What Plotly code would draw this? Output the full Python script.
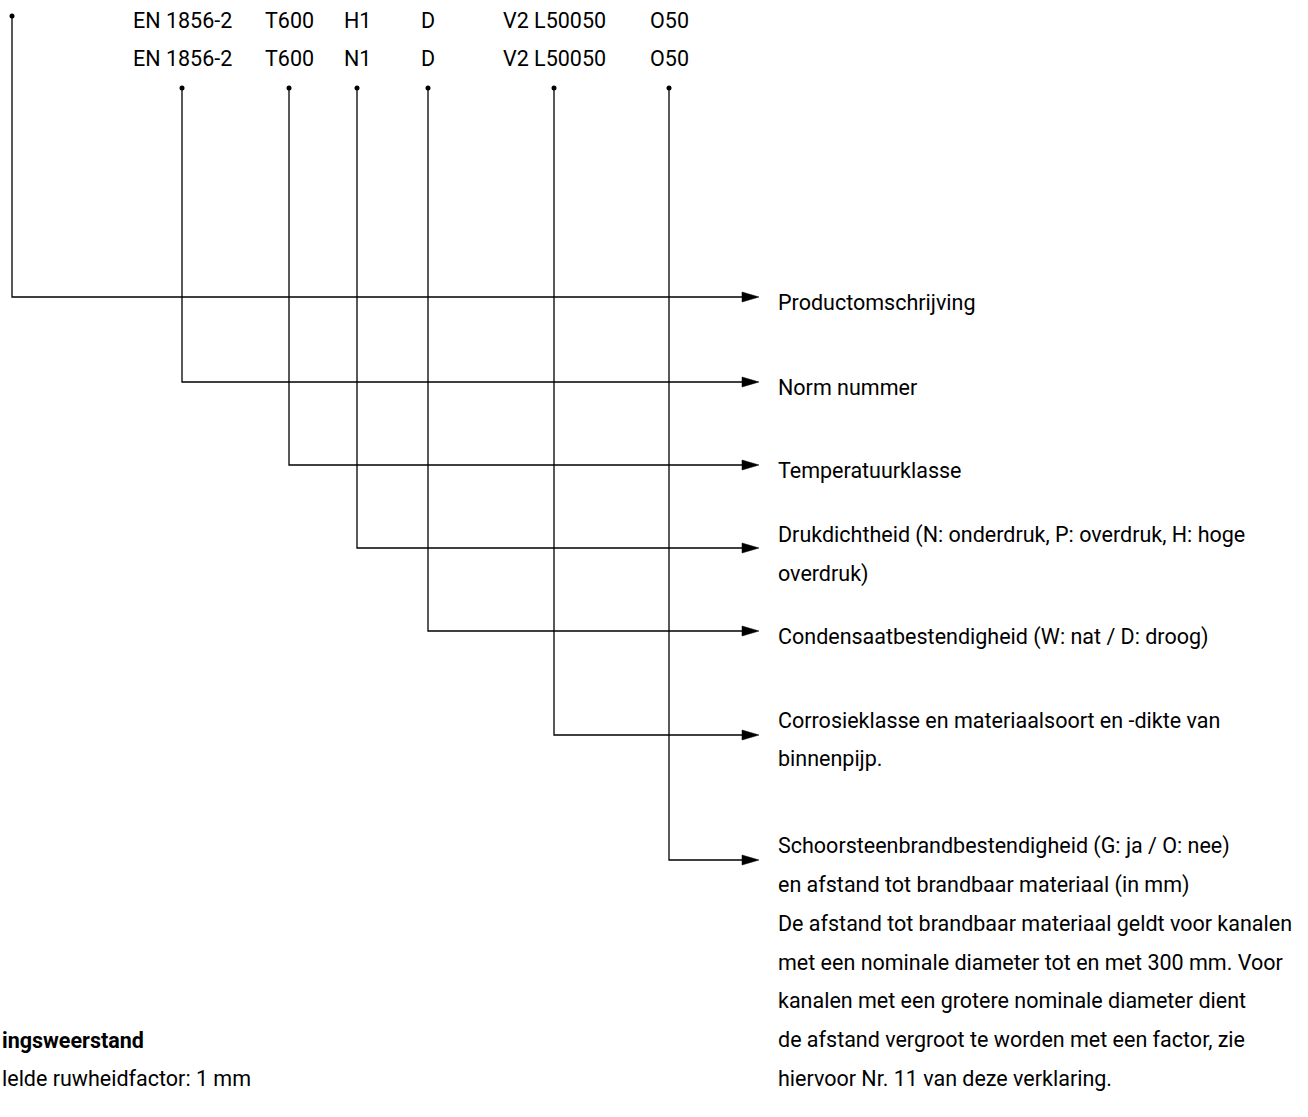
import plotly.graph_objects as go

# ---- content ----
code_row1 = ["EN 1856-2", "T600", "H1", "D", "V2 L50050", "O50"]
code_row2 = ["EN 1856-2", "T600", "N1", "D", "V2 L50050", "O50"]
labels = [
    ["Productomschrijving"],
    ["Norm nummer"],
    ["Temperatuurklasse"],
    ["Drukdichtheid (N: onderdruk, P: overdruk, H: hoge", "overdruk)"],
    ["Condensaatbestendigheid (W: nat / D: droog)"],
    ["Corrosieklasse en materiaalsoort en -dikte van", "binnenpijp."],
    ["Schoorsteenbrandbestendigheid (G: ja / O: nee)",
     "en afstand tot brandbaar materiaal (in mm)",
     "De afstand tot brandbaar materiaal geldt voor kanalen",
     "met een nominale diameter tot en met 300 mm. Voor",
     "kanalen met een grotere nominale diameter dient",
     "de afstand vergroot te worden met een factor, zie",
     "hiervoor Nr. 11 van deze verklaring."],
]
footer_bold = "ingsweerstand"
footer_text = "lelde ruwheidfactor: 1 mm"

# ---- layout geometry (pixels) ----
W, H = 1308, 1117
code_x = [182, 289, 357, 428, 554, 669]
row_y = [20, 58]
dot_y = 88
stem_x = [12] + code_x
stem_top = [16] + [dot_y] * 6
branch_y = [297, 382, 465, 548, 631, 735, 860]
label_first_y = [302, 387, 470, 535, 637, 720, 846]
line_gap = 38.7
tip_x = 759
text_x = 776
footer_y = [1040, 1078]

FONT = "Roboto"
FS = 21.5

fig = go.Figure()
shapes = []
ann = []

for sx, st, by in zip(stem_x, stem_top, branch_y):
    shapes.append(dict(type="path",
                       path=f"M {sx} {st} L {sx} {by} L {tip_x-14} {by}",
                       line=dict(color="black", width=1.3), xref="x", yref="y"))
    shapes.append(dict(type="path",
                       path=f"M {tip_x-17} {by-5} L {tip_x} {by} L {tip_x-17} {by+5} Z",
                       fillcolor="black", line=dict(color="black", width=0.5), xref="x", yref="y"))

fig.add_trace(go.Scatter(x=stem_x, y=stem_top, mode="markers",
                         marker=dict(color="black", size=5), hoverinfo="skip", showlegend=False))

for cx, t1, t2 in zip(code_x, code_row1, code_row2):
    for ty, t in zip(row_y, [t1, t2]):
        ann.append(dict(x=cx, y=ty, text=t, showarrow=False, xanchor="center", yanchor="middle",
                        font=dict(family=FONT, size=FS, color="black")))

for ly, lines in zip(label_first_y, labels):
    for i, t in enumerate(lines):
        ann.append(dict(x=text_x, y=ly + i * line_gap, text=t, showarrow=False,
                        xanchor="left", yanchor="middle",
                        font=dict(family=FONT, size=FS, color="black")))

for fy, ft in zip(footer_y, [f"<b>{footer_bold}</b>", footer_text]):
    ann.append(dict(xref="paper", yref="y", x=0, y=fy, text=ft, showarrow=False,
                    xanchor="left", yanchor="middle", font=dict(family=FONT, size=FS, color="black")))

fig.update_layout(
    width=W, height=H, margin=dict(l=0, r=0, t=0, b=0),
    paper_bgcolor="white", plot_bgcolor="white",
    shapes=shapes, annotations=ann,
    xaxis=dict(range=[0, W], visible=False, fixedrange=True),
    yaxis=dict(range=[H, 0], visible=False, fixedrange=True),
)
fig.write_html("out.html", config={"displayModeBar": False},
               post_script="document.body.style.margin='0';document.body.style.overflow='hidden';")
